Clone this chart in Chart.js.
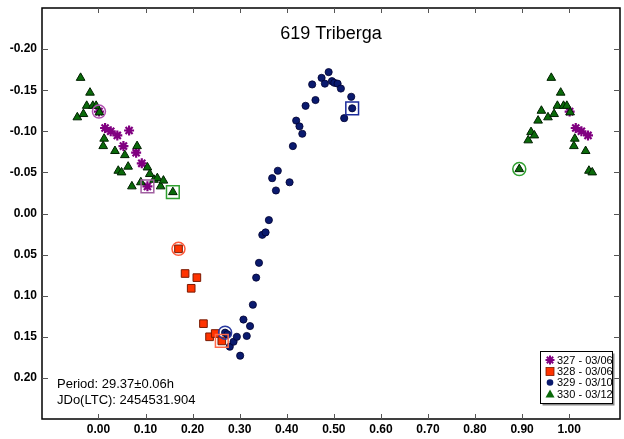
<!DOCTYPE html>
<html>
<head>
<meta charset="utf-8">
<script src="https://cdn.jsdelivr.net/npm/chart.js@4/dist/chart.umd.min.js"></script>
<style>
  html, body { margin: 0; padding: 0; background: #fff; }
  #wrap { width: 624px; height: 439px; position: relative; }
</style>
</head>
<body>
<div id="wrap"><canvas id="c" width="624" height="439"></canvas></div>
<script>
// Light-curve of asteroid 619 Triberga, phased on P = 29.37 h.
const chartTitle = '619 Triberga';
const periodText = 'Period: 29.37\u00B10.06h';
const epochText = 'JDo(LTC): 2454531.904';

const sessionLabels = ['327 - 03/06', '328 - 03/06', '329 - 03/10', '330 - 03/12'];

// Session 327 (phase, relative magnitude) in observing order
const s327Phase = [0.001, 0.014, 0.026, 0.040, 0.053, 0.065, 0.080, 0.092, 0.104];
const s327Mag   = [-0.124, -0.104, -0.100, -0.095, -0.082, -0.101, -0.074, -0.061, -0.033];

// Session 328
const s328Phase = [0.170, 0.184, 0.197, 0.209, 0.223, 0.236, 0.248, 0.262];
const s328Mag   = [0.043, 0.073, 0.091, 0.078, 0.134, 0.150, 0.146, 0.155];

// Session 329
const s329Phase = [0.269, 0.274, 0.279, 0.287, 0.294, 0.301, 0.308, 0.315, 0.322, 0.328,
                   0.335, 0.341, 0.348, 0.355, 0.362, 0.369, 0.377, 0.381, 0.406, 0.413,
                   0.420, 0.427, 0.433, 0.440, 0.454, 0.461, 0.474, 0.481, 0.489, 0.496,
                   0.501, 0.508, 0.515, 0.522, 0.537, 0.539];
const s329Mag   = [0.145, 0.147, 0.162, 0.156, 0.150, 0.173, 0.129, 0.149, 0.137, 0.111,
                   0.078, 0.060, 0.026, 0.023, 0.008, -0.043, -0.028, -0.052, -0.038, -0.082,
                   -0.113, -0.106, -0.097, -0.131, -0.157, -0.138, -0.165, -0.158, -0.172, -0.161,
                   -0.159, -0.158, -0.152, -0.116, -0.142, -0.128];

// Session 330
const s330Phase = [0.894, 0.913, 0.919, 0.926, 0.934, 0.941, 0.955, 0.962, 0.968, 0.975,
                   0.982, 0.988, 0.995, 0.002, 0.010, 0.012, 0.035, 0.042, 0.049, 0.056,
                   0.063, 0.071, 0.082, 0.090, 0.104, 0.109, 0.118, 0.125, 0.132, 0.138, 0.158];
const s330Mag   = [-0.054, -0.089, -0.099, -0.095, -0.113, -0.125, -0.117, -0.165, -0.121, -0.131,
                   -0.147, -0.131, -0.131, -0.123, -0.082, -0.091, -0.076, -0.052, -0.050, -0.071,
                   -0.057, -0.033, -0.082, -0.038, -0.056, -0.048, -0.041, -0.043, -0.033, -0.040, -0.026];

// Axis ticks
const xTickValues = [0.00, 0.10, 0.20, 0.30, 0.40, 0.50, 0.60, 0.70, 0.80, 0.90, 1.00];
const yTickValues = [-0.20, -0.15, -0.10, -0.05, 0.00, 0.05, 0.10, 0.15, 0.20];

// Points near phase 0/1 are repeated one cycle over so the curve wraps.
function phased(phase, mag) {
  const pts = [];
  phase.forEach((p, i) => {
    pts.push({ x: p, y: mag[i] });
    if (p < 0.05) pts.push({ x: p + 1, y: mag[i] });
    if (p > 0.95) pts.push({ x: p - 1, y: mag[i] });
  });
  return pts;
}
function firstPoint(phase, mag) { return [{ x: phase[0], y: mag[0] }]; }
function lastPoint(phase, mag) { const n = phase.length - 1; return [{ x: phase[n], y: mag[n] }]; }

const colors = {
  s327: '#800080', s328: '#ff3300', s329: '#0a1a6e', s330: '#0a6a0a'
};

function marker(data, style, color, radius, order) {
  return {
    label: '', data, showLine: false, order,
    pointStyle: style, pointRadius: radius, pointBorderWidth: 1.5,
    pointBackgroundColor: 'rgba(0,0,0,0)', pointBorderColor: color
  };
}

const datasets = [
  { label: sessionLabels[0], data: phased(s327Phase, s327Mag), order: 4,
    pointStyle: 'star', pointRadius: 5, pointBorderWidth: 2.2,
    pointBorderColor: colors.s327, pointBackgroundColor: colors.s327 },
  { label: sessionLabels[1], data: phased(s328Phase, s328Mag), order: 3,
    pointStyle: 'rect', pointRadius: 5.4, pointBorderWidth: 1,
    pointBorderColor: '#7a1a00', pointBackgroundColor: colors.s328 },
  { label: sessionLabels[2], data: phased(s329Phase, s329Mag), order: 2,
    pointStyle: 'circle', pointRadius: 3.6, pointBorderWidth: 0.8,
    pointBorderColor: '#000030', pointBackgroundColor: colors.s329 },
  { label: sessionLabels[3], data: phased(s330Phase, s330Mag), order: 1,
    pointStyle: 'triangle', pointRadius: 5, pointBorderWidth: 1,
    pointBorderColor: '#002000', pointBackgroundColor: colors.s330 },
  // first (circle) and last (square) point of each session
  marker(firstPoint(s327Phase, s327Mag), 'circle', '#b050b0', 6.5, 0),
  marker(lastPoint(s327Phase, s327Mag), 'rect', '#a060a0', 9, 0),
  marker(firstPoint(s328Phase, s328Mag), 'circle', '#ff5a3a', 6.5, 0),
  marker(lastPoint(s328Phase, s328Mag), 'rect', '#ff6a4a', 9, 0),
  marker(firstPoint(s329Phase, s329Mag), 'circle', '#2a3aa0', 6.5, 0),
  marker(lastPoint(s329Phase, s329Mag), 'rect', '#1a2a9a', 9, 0),
  marker(firstPoint(s330Phase, s330Mag), 'circle', '#30a030', 6.5, 0),
  marker(lastPoint(s330Phase, s330Mag), 'rect', '#30a030', 9, 0)
];

const FONT = '"Liberation Sans", Arial, sans-serif';

function drawLegendMarker(ctx, style, x, y) {
  ctx.save();
  if (style === 0) {
    ctx.strokeStyle = colors.s327; ctx.lineWidth = 2;
    const r = 4.5;
    ctx.beginPath();
    for (let k = 0; k < 4; k++) {
      const a = k * Math.PI / 4;
      ctx.moveTo(x - Math.cos(a) * r, y - Math.sin(a) * r);
      ctx.lineTo(x + Math.cos(a) * r, y + Math.sin(a) * r);
    }
    ctx.stroke();
  } else if (style === 1) {
    ctx.fillStyle = colors.s328; ctx.fillRect(x - 4, y - 4, 8, 8);
    ctx.strokeStyle = '#7a1a00'; ctx.lineWidth = 0.8; ctx.strokeRect(x - 4, y - 4, 8, 8);
  } else if (style === 2) {
    ctx.fillStyle = colors.s329; ctx.beginPath(); ctx.arc(x, y, 3.3, 0, Math.PI * 2); ctx.fill();
  } else {
    ctx.fillStyle = colors.s330; ctx.beginPath();
    ctx.moveTo(x, y - 4.5); ctx.lineTo(x + 4.5, y + 3.5); ctx.lineTo(x - 4.5, y + 3.5); ctx.closePath();
    ctx.fill();
  }
  ctx.restore();
}

const framePlugin = {
  id: 'frame',
  afterDraw(chart) {
    const { ctx, chartArea: a, scales } = chart;
    ctx.save();
    // frame
    ctx.strokeStyle = '#000'; ctx.lineWidth = 1.5;
    ctx.strokeRect(a.left, a.top, a.right - a.left, a.bottom - a.top);
    // inward tick marks on all four sides
    ctx.lineWidth = 1; ctx.strokeStyle = '#555';
    ctx.beginPath();
    xTickValues.forEach(v => {
      const px = Math.round(scales.x.getPixelForValue(v)) + 0.5;
      ctx.moveTo(px, a.bottom); ctx.lineTo(px, a.bottom - 5);
      ctx.moveTo(px, a.top); ctx.lineTo(px, a.top + 5);
    });
    yTickValues.forEach(v => {
      const py = Math.round(scales.y.getPixelForValue(v)) + 0.5;
      ctx.moveTo(a.left, py); ctx.lineTo(a.left + 6, py);
      ctx.moveTo(a.right, py); ctx.lineTo(a.right - 6, py);
    });
    ctx.stroke();

    // title
    ctx.fillStyle = '#000';
    ctx.font = '18px ' + FONT;
    ctx.textAlign = 'center'; ctx.textBaseline = 'alphabetic';
    ctx.fillText(chartTitle, (a.left + a.right) / 2, 39);

    // period / epoch
    ctx.font = '13px ' + FONT;
    ctx.textAlign = 'left';
    ctx.fillText(periodText, 57, 388);
    ctx.fillText(epochText, 57, 404);

    // legend box with shadow
    const lx = 540.5, ly = 351.5, lw = 72, lh = 52;
    ctx.fillStyle = '#888';
    ctx.fillRect(lx + 2, ly + 2, lw, lh);
    ctx.fillStyle = '#fff';
    ctx.fillRect(lx, ly, lw, lh);
    ctx.strokeStyle = '#000'; ctx.lineWidth = 1;
    ctx.strokeRect(lx, ly, lw, lh);
    ctx.font = '11px ' + FONT;
    ctx.fillStyle = '#000';
    ctx.textBaseline = 'middle';
    const rows = [360, 371.5, 382.5, 394];
    sessionLabels.forEach((t, i) => {
      drawLegendMarker(ctx, i, 550, rows[i]);
      ctx.fillText(t, 557, rows[i] + 0.5);
    });
    ctx.restore();
  }
};

// Keep the plot box fixed: no extra margin for half-labels at the axis ends.
function noMargins(s) {
  s.paddingTop = 0; s.paddingBottom = 0; s.paddingLeft = 0; s.paddingRight = 0;
}

new Chart(document.getElementById('c'), {
  type: 'scatter',
  data: { datasets },
  options: {
    responsive: false,
    animation: false,
    events: [],
    layout: { autoPadding: false, padding: { top: 8, right: 4, left: 0, bottom: 0 } },
    plugins: { legend: { display: false }, tooltip: { enabled: false }, title: { display: false } },
    scales: {
      x: {
        type: 'linear', min: -0.12, max: 1.108,
        afterBuildTicks: s => { s.ticks = xTickValues.map(v => ({ value: v })); },
        afterFit: s => { s.height = 20; noMargins(s); },
        grid: { display: false, drawTicks: false },
        border: { display: false },
        ticks: {
          autoSkip: false, maxRotation: 0, padding: 3, color: '#000',
          font: { family: FONT, size: 12, weight: 'bold' },
          callback: v => Number(v).toFixed(2)
        }
      },
      y: {
        type: 'linear', reverse: true, min: -0.25, max: 0.25,
        afterBuildTicks: s => { s.ticks = yTickValues.map(v => ({ value: v })); },
        afterFit: s => { s.width = 42; noMargins(s); },
        grid: { display: false, drawTicks: false },
        border: { display: false },
        ticks: {
          autoSkip: false, padding: 5, color: '#000',
          font: { family: FONT, size: 12, weight: 'bold' },
          callback: v => Number(v).toFixed(2)
        }
      }
    }
  },
  plugins: [framePlugin]
});
</script>
</body>
</html>
